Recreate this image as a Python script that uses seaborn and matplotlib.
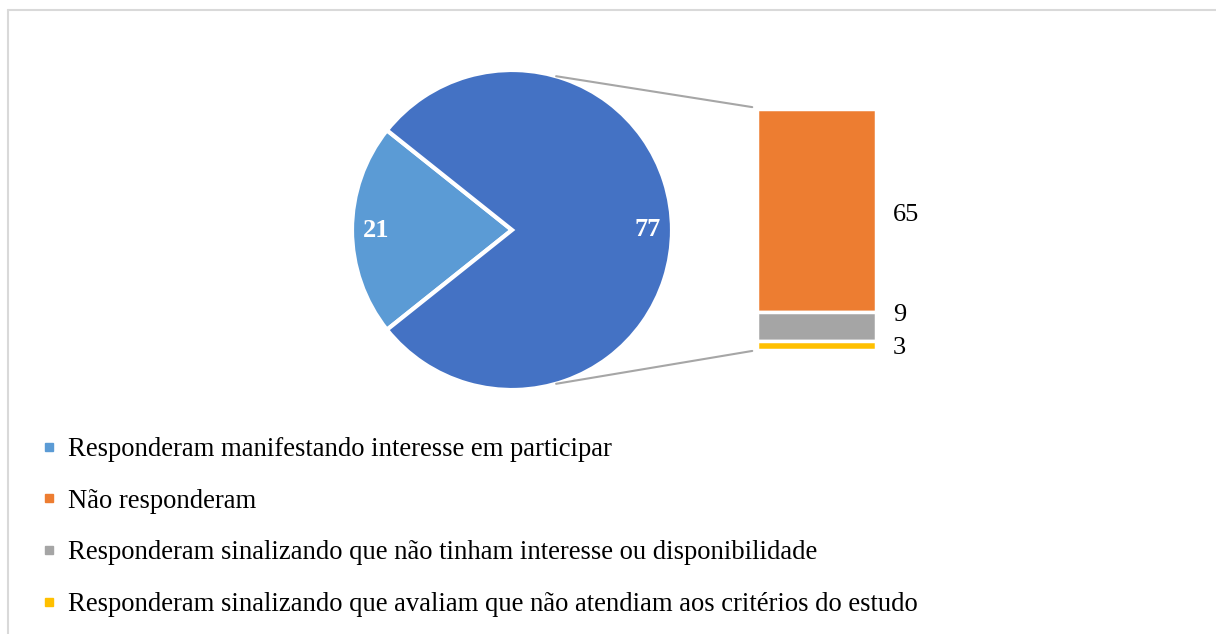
import matplotlib
matplotlib.use("Agg")
import matplotlib.pyplot as plt
from matplotlib.lines import Line2D
from matplotlib.patches import ConnectionPatch
import numpy as np
import seaborn as sns

# pie: interested vs the rest (broken down in the bar)
pie_labels = ["Responderam manifestando interesse em participar", "Demais"]
pie_values = [21, 77]

# bar: breakdown of the 77
bar_labels = [
    "Não responderam",
    "Responderam sinalizando que não tinham interesse ou disponibilidade",
    "Responderam sinalizando que avaliam que não atendiam aos critérios do estudo",
]
bar_values = [65, 9, 3]

pie_colors = ["#5B9BD5", "#4472C4"]
bar_colors = ["#ED7D31", "#A5A5A5", "#FFC000"]

sns.set_theme(style="white")
plt.rcParams["font.family"] = ["Liberation Serif", "DejaVu Serif"]
plt.rcParams["text.color"] = "black"

W, H = 1216, 634
fig = plt.figure(figsize=(W / 100, H / 100), dpi=100)

# pie axes, 320px square centred at (512, 230)
ax_pie = fig.add_axes([352 / W, (H - 390) / H, 320 / W, 320 / H])
share = pie_values[0] / sum(pie_values) * 360
wedges, _, autotexts = ax_pie.pie(
    pie_values,
    colors=pie_colors,
    startangle=180 - share / 2,
    counterclock=True,
    autopct=lambda p: f"{round(p * sum(pie_values) / 100):d}",
    pctdistance=0.85,
    wedgeprops=dict(edgecolor="white", linewidth=3),
    textprops=dict(color="white", fontsize=19, fontweight="bold"),
)
ax_pie.set_xlim(-1, 1)
ax_pie.set_ylim(-1, 1)
ax_pie.set_aspect("equal")
ax_pie.axis("off")

# stacked bar axes
ax_bar = fig.add_axes([757 / W, (H - 350) / H, 119 / W, 241 / H])
bottom = sum(bar_values)
offsets = [-3, 8, -2]
for val, col, off in zip(bar_values, bar_colors, offsets):
    bottom -= val
    ax_bar.bar(0, val, bottom=bottom, width=1, color=col, edgecolor="white", linewidth=2.5)
    ax_bar.annotate(str(val), xy=(0.5, bottom + val / 2), xytext=(12, off),
                    textcoords="offset points", ha="left", va="center",
                    fontsize=19, color="black", annotation_clip=False)
ax_bar.set_xlim(-0.5, 0.5)
ax_bar.set_ylim(0, sum(bar_values))
ax_bar.axis("off")

# connector lines from the pie edge to the bar
ang = np.deg2rad(74)
for sgn, yb in [(1, sum(bar_values) + 0.6), (-1, -0.3)]:
    con = ConnectionPatch(xyA=(np.cos(ang), sgn * np.sin(ang)), coordsA=ax_pie.transData,
                          xyB=(-0.54, yb), coordsB=ax_bar.transData,
                          color="#A6A6A6", linewidth=1.5)
    fig.add_artist(con)

# legend
all_labels = [pie_labels[0]] + bar_labels
all_colors = [pie_colors[0]] + bar_colors
handles = [Line2D([], [], marker="s", linestyle="none", markersize=6,
                  markerfacecolor=c, markeredgecolor=c) for c in all_colors]
leg = fig.legend(handles, all_labels, loc="upper left", bbox_to_anchor=(41 / W, 1 - 437 / H),
                 frameon=False, fontsize=19.2, handlelength=0.6, handletextpad=0.42,
                 labelspacing=1.0, borderaxespad=0, borderpad=0)
for t in leg.get_texts():
    t.set_color("black")

# chart frame (top and left visible)
fig.add_artist(Line2D([8 / W, 1], [1 - 10 / H, 1 - 10 / H], color="#D9D9D9", linewidth=1.5))
fig.add_artist(Line2D([8 / W, 8 / W], [0, 1 - 10 / H], color="#D9D9D9", linewidth=1.5))

fig.savefig("out.png", dpi=100)
